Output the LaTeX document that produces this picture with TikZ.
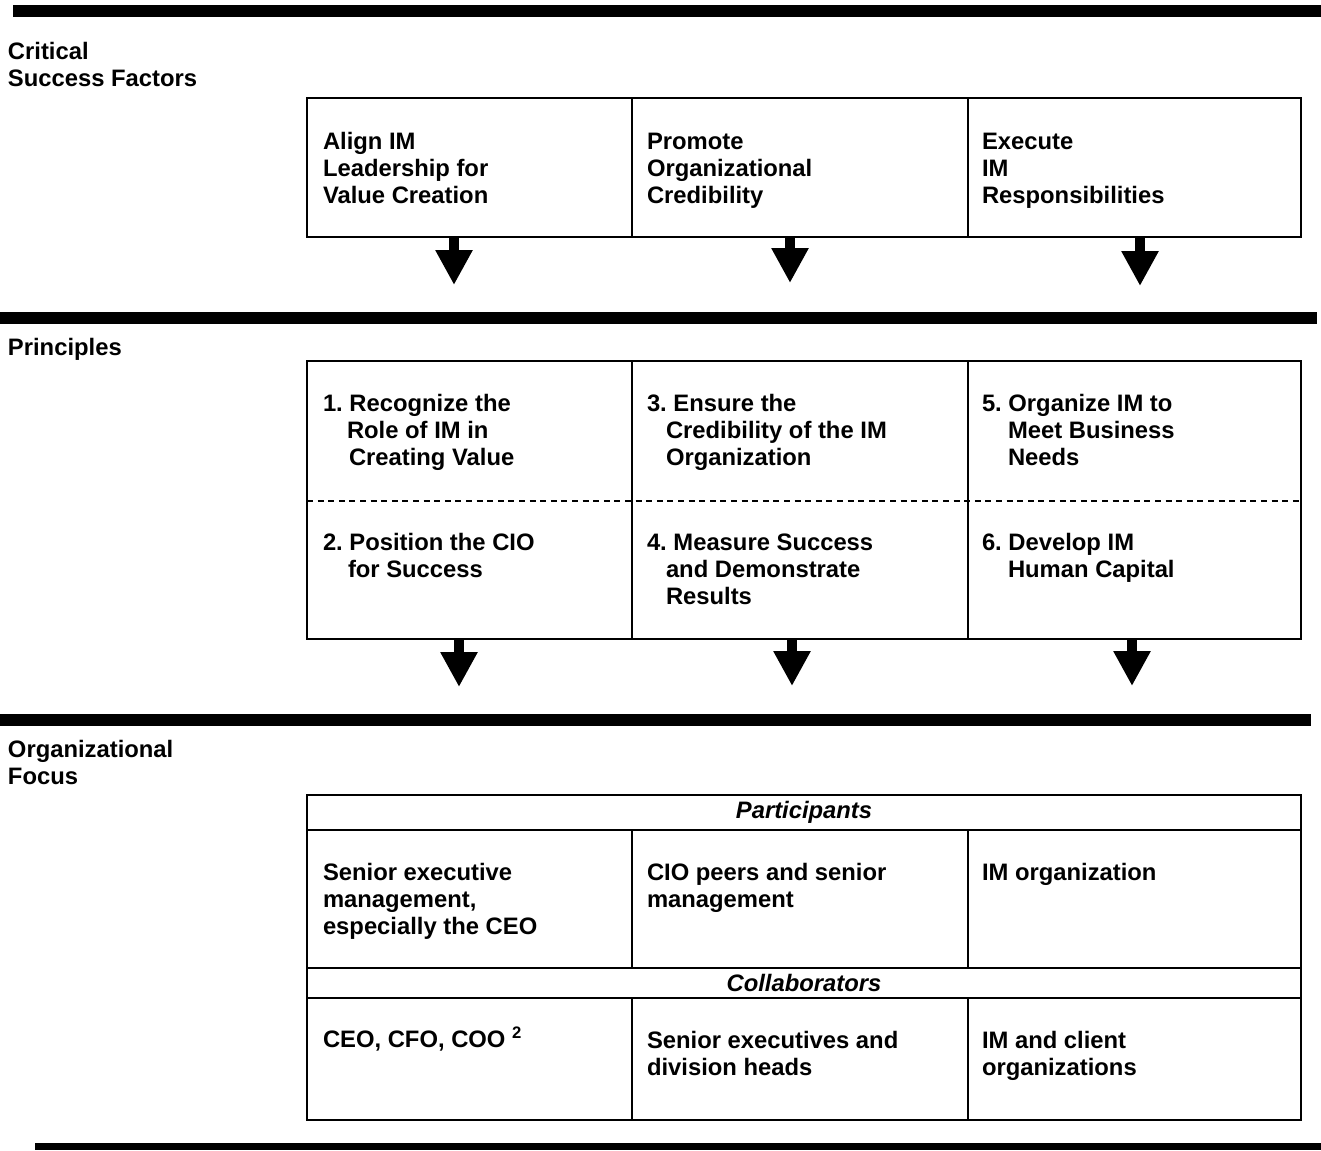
\documentclass[tikz,border=0pt]{standalone}
\usepackage{fontspec}
\setmainfont{Liberation Sans}
\usetikzlibrary{arrows.meta}
\frenchspacing
% left-aligned multi-line block whose baseline is its first line
\newcommand\txtblock[1]{\parbox[t]{170pt}{\raggedright #1}}
\begin{document}
\begin{tikzpicture}[x=0.5pt,y=-0.5pt,
  every node/.style={inner sep=0pt, outer sep=0pt},
  lbl/.style={anchor=base west, font=\fontsize{11.9}{13.5}\selectfont\bfseries},
  cell/.style={draw, line width=1pt, anchor=north west},
  hdr/.style={cell, font=\fontsize{11.9}{13.5}\selectfont\bfseries\itshape},
  flow/.style={line width=5pt, -{Triangle[width=17.5pt,length=17.5pt]}},
  sep/.style={line width=1.2pt, dash pattern=on 3pt off 2.3pt}]
\useasboundingbox (0,0) rectangle (1321,1150);

% section rules
\fill (13,5) rectangle (1321,17);
\fill (0,312) rectangle (1317,324);
\fill (0,714) rectangle (1311,726);
\fill (35,1143) rectangle (1321,1150);

% section headings
\node[lbl] (hcsf) at (8,60) {\txtblock{Critical\\Success Factors}};
\node[lbl] (hpr) at (8,355) {Principles};
\node[lbl] (hof) at (8,757) {\txtblock{Organizational\\Focus}};

% critical success factors
\node[cell, minimum width=162.5pt, minimum height=69.5pt] (c1) at (307,98) {};
\node[cell, minimum width=168pt, minimum height=69.5pt] (c2) at (632,98) {};
\node[cell, minimum width=166.5pt, minimum height=69.5pt] (c3) at (968,98) {};
\node[lbl] (c1t) at (323,150) {\txtblock{Align IM\\Leadership for\\Value Creation}};
\node[lbl] (c2t) at (647,150) {\txtblock{Promote\\Organizational\\Credibility}};
\node[lbl] (c3t) at (982,150) {\txtblock{Execute\\IM\\Responsibilities}};

\coordinate (a1) at (454,285);
\coordinate (a2) at (790,283);
\coordinate (a3) at (1140,286);
\draw[flow] (c1.south -| a1) -- (a1);
\draw[flow] (c2.south -| a2) -- (a2);
\draw[flow] (c3.south -| a3) -- (a3);

% principles
\node[cell, minimum width=162.5pt, minimum height=139pt] (p1) at (307,361) {};
\node[cell, minimum width=168pt, minimum height=139pt] (p2) at (632,361) {};
\node[cell, minimum width=166.5pt, minimum height=139pt] (p3) at (968,361) {};
\draw[sep] ([yshift=-0.5pt]p1.west) -- ([yshift=-0.5pt]p3.east);
\node[lbl] (p1a) at (323,411) {\txtblock{1. Recognize the\\\hspace*{12pt}Role of IM in\\\hspace*{13pt}Creating Value}};
\node[lbl] (p1b) at (323,550) {\txtblock{2. Position the CIO\\\hspace*{12.5pt}for Success}};
\node[lbl] (p2a) at (647,411) {\txtblock{3. Ensure the\\\hspace*{9.5pt}Credibility of the IM\\\hspace*{9.5pt}Organization}};
\node[lbl] (p2b) at (647,550) {\txtblock{4. Measure Success\\\hspace*{9.5pt}and Demonstrate\\\hspace*{9.5pt}Results}};
\node[lbl] (p3a) at (982,411) {\txtblock{5. Organize IM to\\\hspace*{13pt}Meet Business\\\hspace*{13pt}Needs}};
\node[lbl] (p3b) at (982,550) {\txtblock{6. Develop IM\\\hspace*{13pt}Human Capital}};

\coordinate (b1) at (459,687);
\coordinate (b2) at (792,686);
\coordinate (b3) at (1132,686);
\draw[flow] (p1.south -| b1) -- (b1);
\draw[flow] (p2.south -| b2) -- (b2);
\draw[flow] (p3.south -| b3) -- (b3);

% organizational focus table
\node[hdr, minimum width=497pt, minimum height=17.5pt] (o0) at (307,795) {Participants};
\node[cell, minimum width=162.5pt, minimum height=69pt] (o1) at (307,830) {};
\node[cell, minimum width=168pt, minimum height=69pt] (o2) at (632,830) {};
\node[cell, minimum width=166.5pt, minimum height=69pt] (o3) at (968,830) {};
\node[hdr, minimum width=497pt, minimum height=15pt] (q0) at (307,968) {Collaborators};
\node[cell, minimum width=162.5pt, minimum height=61pt] (q1) at (307,998) {};
\node[cell, minimum width=168pt, minimum height=61pt] (q2) at (632,998) {};
\node[cell, minimum width=166.5pt, minimum height=61pt] (q3) at (968,998) {};

\node[lbl] (o1t) at (323,880) {\txtblock{Senior executive\\management,\\especially the CEO}};
\node[lbl] (o2t) at (647,880) {\txtblock{CIO peers and senior\\management}};
\node[lbl] (o3t) at (982,880) {IM organization};
\node[lbl] (q1t) at (323,1047) {CEO, CFO, COO \textsuperscript{2}};
\node[lbl] (q2t) at (647,1048) {\txtblock{Senior executives and\\division heads}};
\node[lbl] (q3t) at (982,1048) {\txtblock{IM and client\\organizations}};
\end{tikzpicture}
\end{document}
